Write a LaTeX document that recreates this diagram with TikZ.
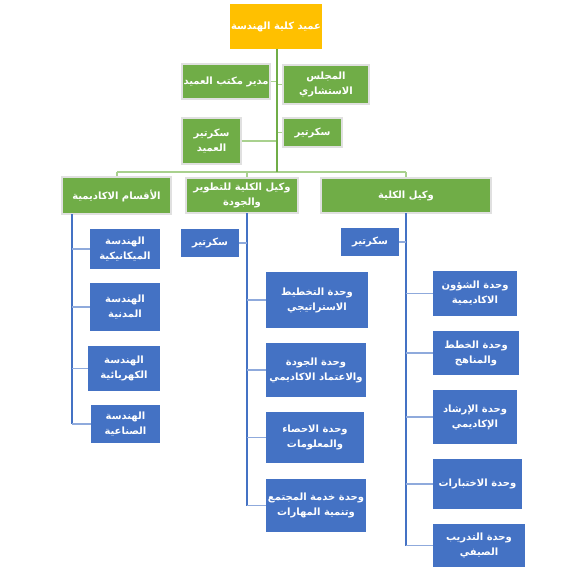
\documentclass[tikz,border=0pt]{standalone}
\usepackage{fontspec}
\newfontfamily\arabicfont[Script=Arabic]{DejaVu Sans}
\TeXXeTstate=1
\newcommand\AR[1]{\beginR#1\endR}
\definecolor{gfill}{HTML}{70AD47}
\definecolor{bfill}{HTML}{4472C4}
\definecolor{yfill}{HTML}{FFC000}
\definecolor{gline}{HTML}{A9D18E}
\definecolor{bline}{HTML}{8FAADC}
\definecolor{gborder}{HTML}{E0E0E0}
\tikzset{
  boxbase/.style={inner sep=1pt, text=white, align=center,
    font=\arabicfont\bfseries\fontsize{10}{15}\selectfont},
  yellowbox/.style={boxbase, fill=yfill},
  greenbox/.style={boxbase, fill=gfill, draw=gborder, line width=1.6pt},
  bluebox/.style={boxbase, fill=bfill},
  gspine/.style={draw=gfill, line width=1.6pt},
  gbranch/.style={draw=gline, line width=1.4pt},
  bspine/.style={draw=bfill, line width=1.3pt},
  bbranch/.style={draw=bline, line width=1.3pt},
}
\newcommand\bx[7]{\node[#6, minimum width={(#4-#2)*1pt}, minimum height={(#5-#3)*1pt}]
  (#1) at ({(#2+#4)/2},{(#3+#5)/2}) {#7};}
\begin{document}
\begin{tikzpicture}[x=1pt,y=-1pt]
\useasboundingbox (0,0) rectangle (587,571);
% boxes
\bx{dean}{231}{4}{321}{49}{yellowbox}{\AR{عميد كلية الهندسة}}
\bx{office}{182}{64}{270}{99}{greenbox}{\AR{مدير مكتب العميد}}
\bx{council}{283}{65}{369}{104}{greenbox}{\AR{المجلس}\\\AR{الاستشاري}}
\bx{secdean}{182}{118}{241}{164}{greenbox}{\AR{سكرتير}\\\AR{العميد}}
\bx{sec}{283}{118}{342}{147}{greenbox}{\AR{سكرتير}}
\bx{acad}{62}{177}{171}{214}{greenbox}{\AR{الأقسام الاكاديمية}}
\bx{vdev}{186}{178}{298}{213}{greenbox}{\AR{وكيل الكلية للتطوير}\\\AR{والجودة}}
\bx{vice}{321}{178}{491}{213}{greenbox}{\AR{وكيل الكلية}}
\bx{mech}{90}{229}{160}{269}{bluebox}{\AR{الهندسة}\\\AR{الميكانيكية}}
\bx{civil}{90}{283}{160}{331}{bluebox}{\AR{الهندسة}\\\AR{المدنية}}
\bx{elec}{88}{346}{160}{391}{bluebox}{\AR{الهندسة}\\\AR{الكهربائية}}
\bx{ind}{91}{405}{160}{443}{bluebox}{\AR{الهندسة}\\\AR{الصناعية}}
\bx{secm}{181}{229}{239}{257}{bluebox}{\AR{سكرتير}}
\bx{plan}{266}{272}{368}{328}{bluebox}{\AR{وحدة التخطيط}\\\AR{الاستراتيجي}}
\bx{qual}{266}{343}{366}{397}{bluebox}{\AR{وحدة الجودة}\\\AR{والاعتماد الاكاديمي}}
\bx{stat}{266}{412}{364}{463}{bluebox}{\AR{وحدة الاحصاء}\\\AR{والمعلومات}}
\bx{comm}{266}{479}{366}{532}{bluebox}{\AR{وحدة خدمة المجتمع}\\\AR{وتنمية المهارات}}
\bx{secr}{341}{228}{399}{256}{bluebox}{\AR{سكرتير}}
\bx{aff}{433}{271}{517}{316}{bluebox}{\AR{وحدة الشؤون}\\\AR{الاكاديمية}}
\bx{curr}{433}{331}{519}{375}{bluebox}{\AR{وحدة الخطط}\\\AR{والمناهج}}
\bx{guid}{433}{390}{517}{444}{bluebox}{\AR{وحدة الإرشاد}\\\AR{الإكاديمي}}
\bx{exam}{433}{459}{522}{509}{bluebox}{\AR{وحدة الاختبارات}}
\bx{train}{433}{524}{525}{567}{bluebox}{\AR{وحدة التدريب}\\\AR{الصيفي}}
% coordinates
\coordinate (top) at (277,49);
\coordinate (barC) at (277,172);
\coordinate (barL) at (117,172);
\coordinate (barM) at (247,172);
\coordinate (barR) at (406,172);
\coordinate (sL) at (72,214);
\coordinate (sM) at (247,213);
\coordinate (sR) at (406,213);
% top connectors
\draw[gbranch] (office.east) -- (office.east -| top);
\draw[gbranch] (council.west) -- (council.west -| top);
\draw[gbranch] (secdean.east) -- (secdean.east -| top);
\draw[gbranch] (sec.west) -- (sec.west -| top);
\draw[gbranch] (barL) -- (barR);
\draw[gbranch] (barL) -- (barL |- acad.north);
\draw[gbranch] (barM) -- (barM |- vdev.north);
\draw[gbranch] (barR) -- (barR |- vice.north);
\draw[gspine] (top) -- (barC);
% left column
\draw[bspine] (sL) -- (sL |- ind.west);
\foreach \b in {mech,civil,elec,ind}{\draw[bbranch] (\b.west) -- (\b.west -| sL);}
% middle column
\draw[bspine] (sM) -- (sM |- comm.west);
\draw[bbranch] (secm.east) -- (secm.east -| sM);
\foreach \b in {plan,qual,stat,comm}{\draw[bbranch] (\b.west) -- (\b.west -| sM);}
% right column
\draw[bspine] (sR) -- (sR |- train.west);
\draw[bbranch] (secr.east) -- (secr.east -| sR);
\foreach \b in {aff,curr,guid,exam,train}{\draw[bbranch] (\b.west) -- (\b.west -| sR);}
\end{tikzpicture}
\end{document}
